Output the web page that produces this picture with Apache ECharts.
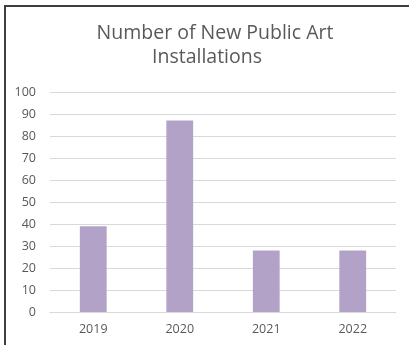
<!DOCTYPE html>
<html>
<head>
<meta charset="utf-8">
<script src="https://cdn.jsdelivr.net/npm/echarts@6/dist/echarts.min.js"></script>
<style>
  html, body { margin: 0; padding: 0; background: #fff; }
  #chart { width: 409px; height: 345px; }
</style>
</head>
<body>
<div id="chart"></div>
<script>
// Installations per year
const years = ['2019', '2020', '2021', '2022'];
const installations = [39, 87, 28, 28];
const yTicks = { min: 0, max: 100, interval: 10 };

const chart = echarts.init(document.getElementById('chart'), null, { renderer: 'canvas' });
const font = 'Open Sans, Liberation Sans, sans-serif';

chart.setOption({
  animation: false,
  backgroundColor: '#ffffff',
  title: [
    {
      text: 'Number of New Public Art',
      left: 210, top: 18, textAlign: 'center',
      textStyle: { fontFamily: font, fontSize: 19.5, fontWeight: 'normal', color: '#595959' }
    },
    {
      text: 'Installations',
      left: 202, top: 42, textAlign: 'center',
      textStyle: { fontFamily: font, fontSize: 19.5, fontWeight: 'normal', color: '#595959' }
    }
  ],
  graphic: [
    { type: 'polyline', shape: { points: [[5, 345], [5, 6], [409, 6]] },
      style: { stroke: '#3f3f3f', lineWidth: 2, fill: null } }
  ],
  grid: { left: 50, right: 13, top: 92, bottom: 33 },
  xAxis: {
    type: 'category',
    data: years,
    axisLine: { lineStyle: { color: '#d9d9d9' } },
    axisTick: { show: false },
    axisLabel: { color: '#595959', fontFamily: font, fontSize: 12.5, margin: 11 }
  },
  yAxis: {
    type: 'value',
    min: yTicks.min, max: yTicks.max, interval: yTicks.interval,
    axisLine: { show: false },
    axisTick: { show: false },
    splitLine: { lineStyle: { color: '#d9d9d9' } },
    axisLabel: { color: '#595959', fontFamily: font, fontSize: 12.5, margin: 14 }
  },
  series: [{
    type: 'bar',
    data: installations,
    barWidth: '31%',
    itemStyle: { color: '#b3a2c7' }
  }]
});
</script>
</body>
</html>
